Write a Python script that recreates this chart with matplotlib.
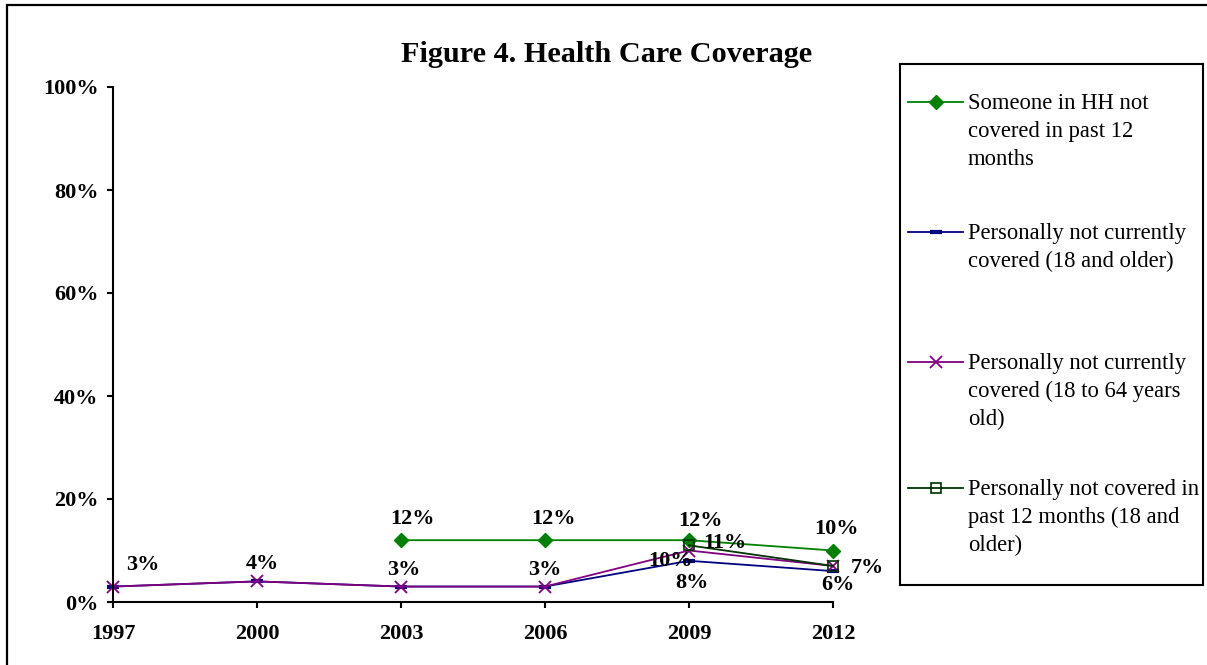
import numpy as np
import matplotlib
matplotlib.use("Agg")
import matplotlib.pyplot as plt
from matplotlib.patches import Rectangle

plt.rcParams['font.family'] = ['Liberation Serif', 'DejaVu Serif']

# data
years = ["1997", "2000", "2003", "2006", "2009", "2012"]
hh_not_covered = [np.nan, np.nan, 12, 12, 12, 10]
not_current_18plus = [3, 4, 3, 3, 8, 6]
not_current_18_64 = [3, 4, 3, 3, 10, 7]
not_covered_12m_18plus = [np.nan, np.nan, np.nan, np.nan, 11, 7]

series_names = [
    "Someone in HH not\ncovered in past 12\nmonths",
    "Personally not currently\ncovered (18 and older)",
    "Personally not currently\ncovered (18 to 64 years\nold)",
    "Personally not covered in\npast 12 months (18 and\nolder)",
]

W, H = 1207, 665
fig = plt.figure(figsize=(W / 100, H / 100), dpi=100)
fig.patch.set_facecolor("white")

# outer frame (only left/top edges visible in the picture)
fig.patches.append(Rectangle((7 / W, -0.1), 1.2, 1.1 - 5 / H, transform=fig.transFigure,
                             fill=False, lw=1.6, ec="black"))

ax = fig.add_axes([113 / W, (H - 602) / H, (833 - 113) / W, (602 - 87) / H])
ax.set_facecolor("none")
x = np.arange(len(years))

styles = [
    dict(color="#008000", marker="D", ms=7, mfc="#008000", mec="#008000"),
    dict(color="#000080", marker="_", ms=9, mew=3),
    dict(color="#800080", marker="x", ms=9, mew=1.3),
    dict(color="#003300", marker="s", ms=7, mfc="none", mew=1.2),
]
all_series = [hh_not_covered, not_current_18plus, not_current_18_64, not_covered_12m_18plus]
for vals, st in zip(all_series, styles):
    ax.plot(x, vals, lw=1.3, clip_on=False, **st)

ax.set_xlim(0, len(years) - 1)
ax.set_ylim(0, 100)
ax.set_xticks(x)
ax.set_xticklabels(years)
ax.set_yticks([0, 20, 40, 60, 80, 100])
ax.set_yticklabels([f"{v}%" for v in [0, 20, 40, 60, 80, 100]])
for sp in ["top", "right"]:
    ax.spines[sp].set_visible(False)
for sp in ["left", "bottom"]:
    ax.spines[sp].set_linewidth(1.5)
ax.tick_params(axis="both", direction="out", length=4.5, width=1.5, labelsize=16)
ax.tick_params(axis="y", pad=6)
ax.tick_params(axis="x", pad=11)
for lab in ax.get_xticklabels() + ax.get_yticklabels():
    lab.set_fontweight("bold")

# data labels: (series, index, dx, dy) in pixels
label_spots = [
    (0, 2, 11, 21), (0, 3, 8, 21), (0, 4, 11, 19), (0, 5, 3, 21),
    (1, 0, 30, 22), (1, 1, 5, 17), (1, 2, 3, 17), (1, 3, 0, 17),
    (1, 4, 3, -22), (1, 5, 5, -14),
    (2, 4, -19, -10),
    (3, 4, 36, 2), (3, 5, 34, -2),
]
for s, i, dx, dy in label_spots:
    v = all_series[s][i]
    ax.annotate(f"{v:.0f}%", (x[i], v), xytext=(dx, dy), textcoords="offset pixels",
                ha="center", va="center", fontsize=16, fontweight="bold",
                annotation_clip=False)

fig.text(607 / W, 1 - 54 / H, "Figure 4. Health Care Coverage", ha="center", va="center",
         fontsize=21.8, fontweight="bold")

# legend box
lax = fig.add_axes([900 / W, (H - 585) / H, 303 / W, 521 / H])
lax.set_xlim(0, 303)
lax.set_ylim(521, 0)
lax.set_xticks([])
lax.set_yticks([])
for sp in lax.spines.values():
    sp.set_linewidth(1.5)
entry_y = [38, 168, 298, 424]
for name, st, ey in zip(series_names, styles, entry_y):
    lax.plot([8, 63], [ey, ey], lw=1.3, color=st["color"])
    lax.plot([35.5], [ey], lw=0, **st)
    lax.text(68, ey - 9, name, ha="left", va="top", fontsize=16.3, linespacing=1.43)

fig.savefig("out.png", dpi=100)
